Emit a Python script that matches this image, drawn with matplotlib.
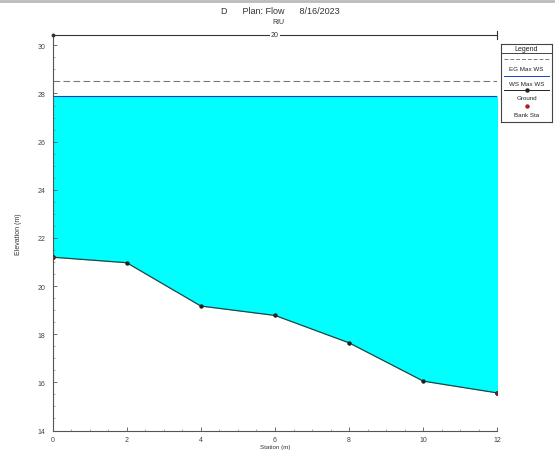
import numpy as np
import matplotlib.pyplot as plt
from matplotlib.lines import Line2D

plt.rcParams['font.family'] = ['Liberation Sans', 'DejaVu Sans']

# cross section data
station = [0, 2, 4, 6, 8, 10, 12]
ground = [21.2, 20.97, 19.17, 18.78, 17.64, 16.05, 15.56]
bank_sta = [0, 12]
ws_max = 27.9
eg_max = 28.5
title_txt = 'D      Plan: Flow      8/16/2023'
sub_txt = 'RIU'
dim_txt = '20'

W, H = 555, 452
fig = plt.figure(figsize=(W / 100, H / 100), dpi=100)


def fx(px):
    return px / W


def fy(py):
    return 1 - py / H


ax = fig.add_axes([fx(52.5), fy(431.5), fx(497.5) - fx(52.5), fy(36) - fy(431.5)])
ax.set_xlim(0, 12)
ax.set_ylim(14, 30.43)

st = np.array(station)
gr = np.array(ground)
ax.fill_between(st, gr, ws_max, color='#00FFFF', lw=0, zorder=1)
ax.plot([0, 12], [ws_max, ws_max], color='#1a3cc8', lw=0.8, zorder=2)
ax.plot([0, 12], [eg_max, eg_max], color='#7a7a7a', lw=0.8, ls=(0, (6, 3)), zorder=2)
ax.plot(st, gr, color='#224444', lw=0.9, marker='o', ms=2.2, mfc='#222222', mec='#222222', zorder=3)
bi = [station.index(b) for b in bank_sta]
ax.plot(st[bi], gr[bi], ls='none', marker='o', ms=2.2, mfc='#aa2222', mec='#552222', zorder=4)

# dimension line across the top
ytop = 30.43
ax.plot([0, 12], [ytop, ytop], color='#333333', lw=0.8, clip_on=False, zorder=5)
ax.plot([12, 12], [ytop - 0.15, ytop + 0.15], color='#333333', lw=0.8, clip_on=False, zorder=5)
ax.plot([0], [ytop], marker='o', ms=1.8, color='#333333', clip_on=False, zorder=5)
ax.text(6, ytop, dim_txt, ha='center', va='center', fontsize=5, color='#333333',
        bbox=dict(fc='white', ec='none', pad=0.6), zorder=6)

for s in ['top', 'right']:
    ax.spines[s].set_visible(False)
for s in ['left', 'bottom']:
    ax.spines[s].set_color('#555555')
    ax.spines[s].set_linewidth(0.8)

ax.set_xticks(np.arange(0, 13, 2))
ax.set_yticks(np.arange(14, 31, 2))
ax.set_xticks(np.arange(0, 12.01, 0.5), minor=True)
ax.set_yticks(np.arange(14, 30.01, 0.5), minor=True)
ax.tick_params(which='major', direction='in', length=3, width=0.6, color='#555555',
               labelsize=5, labelcolor='#444444', pad=5)
ax.tick_params(axis='x', which='major', pad=4)
ax.tick_params(which='minor', direction='in', length=1.5, width=0.5, color='#888888')

ax.set_ylabel('Elevation (m)', fontsize=5, color='#333333', labelpad=11)
fig.text(fx(275), fy(448), 'Station (m)', ha='center', va='center', fontsize=4.5, color='#333333')

fig.text(fx(280), fy(12), title_txt, ha='center', va='center', fontsize=6.5, color='#333333')
fig.text(fx(278), fy(23), sub_txt, ha='center', va='center', fontsize=5, color='#333333')

# frame line at top of window
fig.add_artist(Line2D([0, 1], [fy(1.5), fy(1.5)], color='#bbbbbb', lw=2))

# legend box drawn by hand
lg = fig.add_axes([fx(501), fy(123), fx(552) - fx(501), fy(45) - fy(123)])
lg.set_xlim(501, 552)
lg.set_ylim(123, 45)
lg.set_xticks([])
lg.set_yticks([])
for s in lg.spines.values():
    s.set_color('#444444')
    s.set_linewidth(0.8)
cx = 526.5
lg.text(cx, 49.5, 'Legend', ha='center', va='center', fontsize=5, color='#222222')
lg.plot([501, 552], [54, 54], color='#444444', lw=0.7)
lg.plot([504, 549], [60, 60], color='#7a7a7a', lw=0.7, ls=(0, (4, 2)))
lg.text(cx, 69.5, 'EG Max WS', ha='center', va='center', fontsize=4.5, color='#222222')
lg.plot([504, 549], [77, 77], color='#1a3cc8', lw=0.7)
lg.text(cx, 84, 'WS Max WS', ha='center', va='center', fontsize=4.5, color='#222222')
lg.plot([504, 549], [91, 91], color='#222222', lw=0.7)
lg.plot([cx], [91], marker='o', ms=2.2, color='#222222')
lg.text(cx, 99, 'Ground', ha='center', va='center', fontsize=4.5, color='#222222')
lg.plot([cx], [107], marker='o', ms=2.2, color='#aa2222')
lg.text(cx, 115.5, 'Bank Sta', ha='center', va='center', fontsize=4.5, color='#222222')

fig.savefig('out.png', dpi=100)
